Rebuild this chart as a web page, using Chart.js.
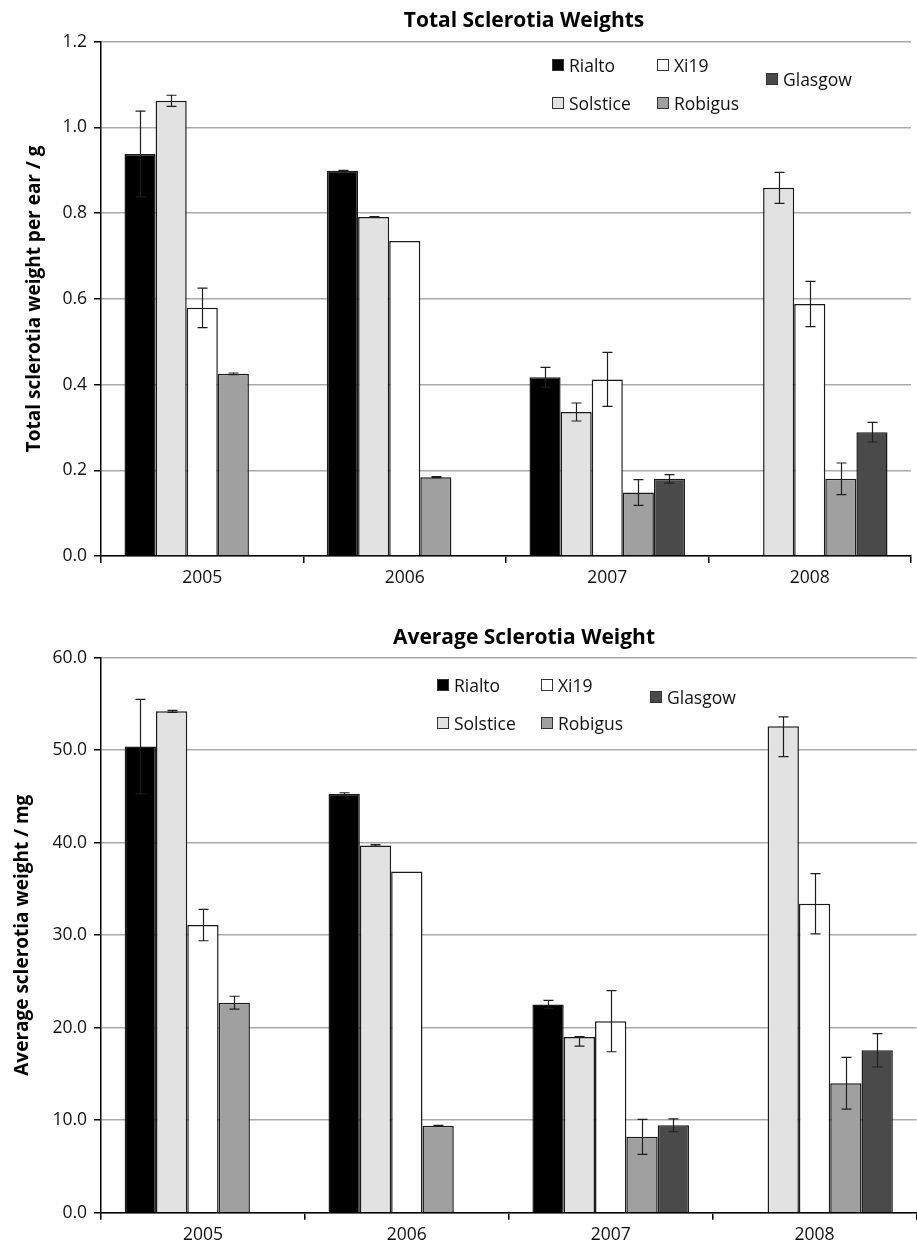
<!DOCTYPE html>
<html>
<head>
<meta charset="utf-8">
<script src="https://cdn.jsdelivr.net/npm/chart.js@4.4.1/dist/chart.umd.min.js"></script>
<style>
  html, body { margin: 0; padding: 0; background: #fff; }
  body { width: 917px; height: 1245px; position: relative; overflow: hidden; font-family: "Open Sans", Lato, sans-serif; color: #000; }
  .panel { position: absolute; left: 0; width: 917px; }
  .panel canvas { position: absolute; left: 0; top: 0; }
  .title { position: absolute; font-weight: bold; font-size: 21px; line-height: 24px; white-space: nowrap; transform: translateX(-50%); }
  .lg { position: absolute; display: flex; align-items: center; height: 22px; font-size: 17.5px; line-height: 22px; white-space: nowrap; color: #111; }
  .lg i { display: inline-block; width: 12px; height: 12px; box-sizing: border-box; border: 1px solid #333; margin-right: 5px; }
</style>
</head>
<body>
<div class="panel" id="p1" style="top:0;height:600px"><canvas id="c1" width="917" height="600"></canvas></div>
<div class="panel" id="p2" style="top:616px;height:629px"><canvas id="c2" width="917" height="629"></canvas></div>
<script>
// ---- data ----
const years = ['2005', '2006', '2007', '2008'];
const varieties = ['Rialto', 'Solstice', 'Xi19', 'Robigus', 'Glasgow'];
const varietyColors = ['#000000', '#e2e2e2', '#ffffff', '#a0a0a0', '#4a4a4a'];

// Total sclerotia weight per ear (g)
const totalRialto   = [0.938, 0.899, 0.417, null];
const totalSolstice = [1.062, 0.791, 0.336, 0.859];
const totalXi19     = [0.579, 0.735, 0.412, 0.588];
const totalRobigus  = [0.425, 0.184, 0.148, 0.180];
const totalGlasgow  = [null, null, 0.180, 0.289];
// standard errors (a pair means [below, above])
const totalRialtoErr   = [0.100, 0.001, 0.023, null];
const totalSolsticeErr = [0.013, 0.001, 0.021, 0.036];
const totalXi19Err     = [0.046, null, 0.063, 0.053];
const totalRobigusErr  = [0.002, 0.001, 0.030, 0.037];
const totalGlasgowErr  = [null, null, 0.010, 0.023];
const totalTicks = [0, 0.2, 0.4, 0.6, 0.8, 1.0, 1.2];

// Average sclerotia weight (mg)
const avgRialto   = [50.4, 45.3, 22.5, null];
const avgSolstice = [54.2, 39.7, 19.0, 52.6];
const avgXi19     = [31.1, 36.9, 20.7, 33.4];
const avgRobigus  = [22.7, 9.4, 8.2, 14.0];
const avgGlasgow  = [null, null, 9.45, 17.55];
const avgRialtoErr   = [5.1, 0.1, 0.45, null];
const avgSolsticeErr = [0.1, 0.1, [1.0, 0.05], [3.3, 1.0]];
const avgXi19Err     = [1.7, null, 3.3, 3.25];
const avgRobigusErr  = [0.7, 0.05, 1.9, 2.8];
const avgGlasgowErr  = [null, null, 0.7, 1.8];
const avgTicks = [0, 10, 20, 30, 40, 50, 60];

// ---- drawing ----
const FONT = '"Open Sans", Lato, sans-serif';
Chart.defaults.font.family = FONT;
Chart.defaults.color = '#000';

const errorBars = {
  id: 'errorBars',
  afterDatasetsDraw(chart) {
    const { ctx } = chart;
    const y = chart.scales.y;
    ctx.save();
    ctx.strokeStyle = '#1e1e1e';
    ctx.lineWidth = 1.2;
    chart.data.datasets.forEach((ds, di) => {
      const meta = chart.getDatasetMeta(di);
      meta.data.forEach((bar, i) => {
        const v = ds.data[i];
        const e = ds.errors[i];
        if (v == null || e == null) return;
        const [lo, hi] = Array.isArray(e) ? e : [e, e];
        const yTop = y.getPixelForValue(v + hi);
        const yBot = y.getPixelForValue(v - lo);
        const x = Math.round(bar.x) + 0.5;
        ctx.beginPath();
        ctx.moveTo(x, yTop); ctx.lineTo(x, yBot);
        ctx.moveTo(x - 5, yTop); ctx.lineTo(x + 5, yTop);
        ctx.moveTo(x - 5, yBot); ctx.lineTo(x + 5, yBot);
        ctx.stroke();
      });
    });
    ctx.restore();
  }
};

function makeDatasets(values, errors) {
  return values.map((vals, k) => ({
    label: varieties[k],
    data: vals,
    errors: errors[k],
    backgroundColor: varietyColors[k],
    borderColor: '#1a1a1a',
    borderWidth: 1.5,
    barPercentage: 1,
    categoryPercentage: 0.768
  }));
}

function buildChart(canvasId, cfg) {
  return new Chart(document.getElementById(canvasId), {
    type: 'bar',
    data: { labels: years, datasets: makeDatasets(cfg.values, cfg.errors) },
    plugins: [errorBars],
    options: {
      responsive: false,
      animation: false,
      devicePixelRatio: 1,
      layout: { padding: { top: cfg.padTop, right: cfg.padRight, left: 0, bottom: 0 } },
      plugins: { legend: { display: false }, title: { display: false }, tooltip: { enabled: false } },
      scales: {
        x: {
          afterFit: s => { s.height = cfg.xHeight; },
          grid: { offset: true, drawOnChartArea: false, drawTicks: true, tickLength: 7, color: '#000', lineWidth: 1.5 },
          border: { color: '#000', width: 1.5 },
          ticks: { font: { size: 17.5 }, padding: 5, color: '#111' }
        },
        y: {
          min: cfg.ticks[0],
          max: cfg.ticks[cfg.ticks.length - 1],
          afterFit: s => { s.width = 101; },
          afterBuildTicks: s => { s.ticks = cfg.ticks.map(v => ({ value: v })); },
          grid: { color: '#aaaaaa', lineWidth: 1.5, tickColor: '#000', tickLength: 7 },
          border: { color: '#000', width: 1.5 },
          ticks: { font: { size: 17.5 }, padding: 7, color: '#111', callback: v => Number(v).toFixed(1) },
          title: { display: true, text: cfg.yTitle, font: { size: 19, weight: 'bold' }, padding: { top: cfg.yTitlePad, bottom: 0 } }
        }
      }
    }
  });
}

function addHeader(panelId, title, titleTop, legendPos) {
  const panel = document.getElementById(panelId);
  const t = document.createElement('div');
  t.className = 'title';
  t.textContent = title;
  t.style.left = '524px';
  t.style.top = titleTop + 'px';
  panel.appendChild(t);
  // legend entries in reading order: Rialto, Xi19, Glasgow / Solstice, Robigus
  legendPos.forEach(([k, x, cy]) => {
    const item = document.createElement('div');
    item.className = 'lg';
    item.style.left = x + 'px';
    item.style.top = (cy - 11) + 'px';
    const sw = document.createElement('i');
    sw.style.background = varietyColors[k];
    const label = document.createElement('span');
    label.textContent = varieties[k];
    item.appendChild(sw);
    item.appendChild(label);
    panel.appendChild(item);
  });
}

buildChart('c1', {
  values: [totalRialto, totalSolstice, totalXi19, totalRobigus, totalGlasgow],
  errors: [totalRialtoErr, totalSolsticeErr, totalXi19Err, totalRobigusErr, totalGlasgowErr],
  ticks: totalTicks,
  yTitle: 'Total sclerotia weight per ear / g',
  yTitlePad: 23,
  padTop: 41.7,
  padRight: 6,
  xHeight: 44
});
addHeader('p1', 'Total Sclerotia Weights', 7, [[0, 552, 65], [2, 657, 65], [4, 766, 79], [1, 552, 102.5], [3, 657, 102.5]]);

buildChart('c2', {
  values: [avgRialto, avgSolstice, avgXi19, avgRobigus, avgGlasgow],
  errors: [avgRialtoErr, avgSolsticeErr, avgXi19Err, avgRobigusErr, avgGlasgowErr],
  ticks: avgTicks,
  yTitle: 'Average sclerotia weight / mg',
  yTitlePad: 11,
  padTop: 41.7,
  padRight: 0.5,
  xHeight: 32.3
});
addHeader('p2', 'Average Sclerotia Weight', 8, [[0, 437, 69], [2, 541, 69], [4, 650, 80.5], [1, 437, 106.5], [3, 541, 106.5]]);
</script>
</body>
</html>
